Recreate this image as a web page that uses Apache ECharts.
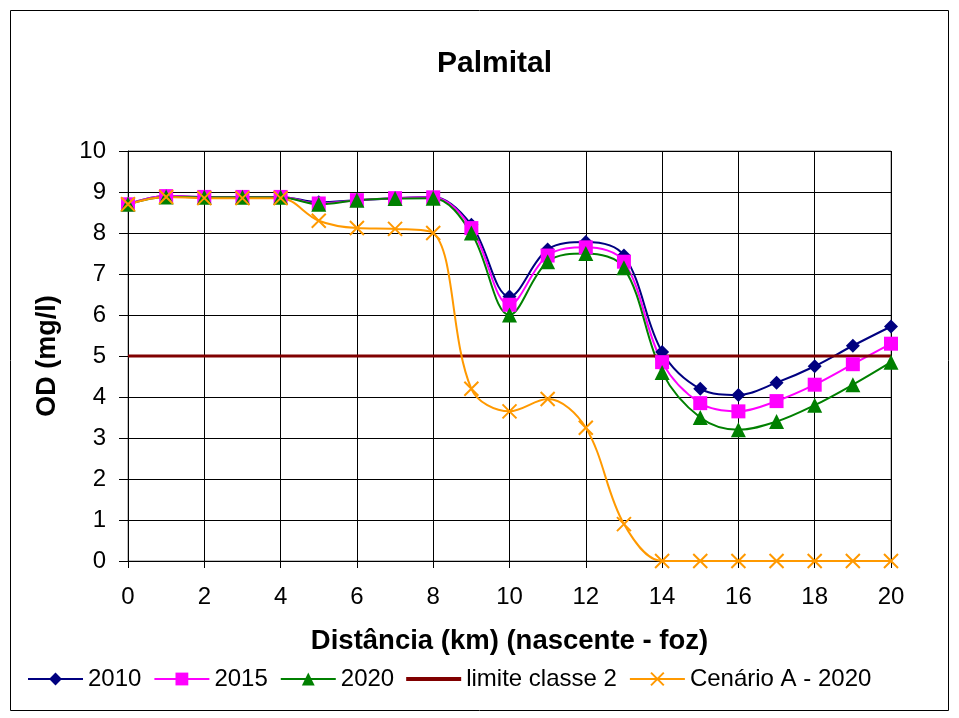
<!DOCTYPE html>
<html><head><meta charset="utf-8">
<script src="https://cdn.jsdelivr.net/npm/echarts@6/dist/echarts.min.js"></script>
<style>html,body{margin:0;padding:0;background:#fff}#c{width:959px;height:718px}</style>
</head><body><div id="c"></div>
<script>
const distances = [0,1,2,3,4,5,6,7,8,9,10,11,12,13,14,15,16,17,18,19,20];
const s2010 = [8.7,8.9,8.88,8.88,8.88,8.75,8.8,8.85,8.88,8.2,6.45,7.6,7.78,7.45,5.1,4.2,4.05,4.35,4.75,5.25,5.72];
const s2015 = [8.7,8.9,8.88,8.88,8.88,8.72,8.8,8.85,8.87,8.12,6.25,7.45,7.65,7.3,4.85,3.85,3.65,3.9,4.3,4.8,5.3];
const s2020 = [8.7,8.88,8.87,8.87,8.87,8.7,8.8,8.84,8.85,8.0,6.0,7.3,7.5,7.15,4.6,3.5,3.2,3.4,3.8,4.3,4.85];
const limite = [5,5,5,5,5,5,5,5,5,5,5,5,5,5,5,5,5,5,5,5,5];
const cenarioA = [8.7,8.88,8.85,8.85,8.85,8.3,8.12,8.1,8.0,4.2,3.65,3.95,3.25,0.9,0,0,0,0,0,0,0];
const yTicks = [0,1,2,3,4,5,6,7,8,9,10];

const pairs = a => distances.map((d,i)=>[d,a[i]]);
const chart = echarts.init(document.getElementById('c'));
const font = 'Liberation Sans, Arial, sans-serif';
const sm = 0.35;
chart.setOption({
  animation:false,
  backgroundColor:'#fff',
  graphic:[{type:'rect',shape:{x:10.5,y:10.5,width:938,height:700},style:{fill:'none',stroke:'#000',lineWidth:1}}],
  title:{text:'Palmital',left:432,top:44,textStyle:{fontFamily:font,fontSize:30,fontWeight:'bold',color:'#000'}},
  grid:{left:128,right:68,top:151,bottom:157,show:true,borderColor:'#808080',borderWidth:1},
  xAxis:{type:'value',min:0,max:20,interval:2,
    name:'Distância (km) (nascente - foz)',nameLocation:'middle',nameGap:66,
    nameTextStyle:{fontFamily:font,fontSize:27.5,fontWeight:'bold',color:'#000'},
    axisLine:{show:true,lineStyle:{color:'#000'}},axisTick:{show:true,length:7,inside:false,lineStyle:{color:'#000'}},
    axisLabel:{fontFamily:font,fontSize:24,color:'#000',margin:24},
    splitLine:{show:true,lineStyle:{color:'#000',width:1}}},
  yAxis:{type:'value',min:0,max:10,interval:1,
    name:'OD (mg/l)',nameLocation:'middle',nameGap:67,nameRotate:90,
    nameTextStyle:{fontFamily:font,fontSize:27,fontWeight:'bold',color:'#000'},
    axisLine:{show:true,lineStyle:{color:'#000'}},axisTick:{show:true,length:9,lineStyle:{color:'#000'}},
    axisLabel:{fontFamily:font,fontSize:24,color:'#000',margin:22,formatter:v=>yTicks.includes(v)?String(v):''},
    splitLine:{show:true,lineStyle:{color:'#000',width:1}}},
  legend:{top:662,left:22,itemGap:12,itemWidth:55,itemHeight:16,
    textStyle:{fontFamily:font,fontSize:24,color:'#000'},
    data:['2010','2015','2020',{name:'limite classe 2',icon:'path://M0,0H55V4H0Z'},'Cenário A - 2020']},
  series:[
    {name:'2010',type:'line',smooth:sm,data:pairs(s2010),symbol:'diamond',symbolSize:14,
      lineStyle:{color:'#000080',width:2},itemStyle:{color:'#000080'}},
    {name:'2015',type:'line',smooth:sm,data:pairs(s2015),symbol:'rect',symbolSize:14,
      lineStyle:{color:'#ff00ff',width:2},itemStyle:{color:'#ff00ff'}},
    {name:'2020',type:'line',smooth:sm,data:pairs(s2020),symbol:'triangle',symbolSize:15,
      lineStyle:{color:'#008000',width:2},itemStyle:{color:'#008000'}},
    {name:'limite classe 2',type:'line',data:pairs(limite),symbol:'none',
      lineStyle:{color:'#800000',width:3},itemStyle:{color:'#800000'}},
    {name:'Cenário A - 2020',type:'line',smooth:sm,data:pairs(cenarioA),
      symbol:'path://M0,0L10,10M10,0L0,10',symbolSize:14,
      lineStyle:{color:'#ff9900',width:2},itemStyle:{color:'none',borderColor:'#ff9900',borderWidth:2}}
  ]
});
</script></body></html>
